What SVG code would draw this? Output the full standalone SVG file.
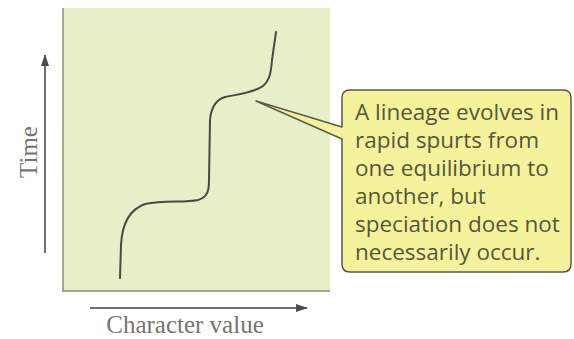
<svg xmlns="http://www.w3.org/2000/svg" width="574" height="339" viewBox="0 0 574 339">
  <defs>
    <style>
      .axis { stroke: #707068; stroke-width: 2; fill: none; }
      .axis-label { font-family: "Liberation Serif", "DejaVu Serif", serif; font-size: 25px; fill: #75756d; }
      .callout-text { font-family: "Open Sans", "Noto Sans", "Liberation Sans", sans-serif; font-size: 22.5px; fill: #56563c; }
      .curve { stroke: #4a4a3e; stroke-width: 2; fill: none; stroke-linecap: round; stroke-linejoin: round; }
    </style>
    <marker id="arrowhead" viewBox="0 0 12 8" refX="11" refY="4" markerWidth="12" markerHeight="8" markerUnits="userSpaceOnUse" orient="auto">
      <path d="M0,0 L12,4 L0,8 Z" fill="#4e4e48"/>
    </marker>
  </defs>

  <rect width="574" height="339" fill="#ffffff"/>

  <!-- plot area with the punctuated lineage curve -->
  <g id="plot">
    <rect x="63" y="8" width="267" height="283" fill="#e7efc9"/>
    <path d="M63,8 V291 H330" fill="none" stroke="#8c8c78" stroke-width="1.5"/>
    <path class="curve" d="M120,278 L121,245 C122,225 128,210 145,204 C165,200 185,203 198,200 C208,197 209,190 209,180 L210,120 C211,108 215,100 225,97 C240,94 255,92 263,86 C270,80 271,72 272,60 L276,32"/>
  </g>

  <!-- axis arrows -->
  <g id="connectors">
    <line class="axis" x1="45" y1="253" x2="45" y2="55" marker-end="url(#arrowhead)"/>
    <line class="axis" x1="90" y1="308" x2="307" y2="308" marker-end="url(#arrowhead)"/>
  </g>

  <g id="label-time">
    <text class="axis-label" transform="translate(37,152) rotate(-90)" text-anchor="middle">Time</text>
  </g>

  <g id="label-character">
    <text class="axis-label" x="185" y="333" text-anchor="middle">Character value</text>
  </g>

  <!-- annotation bubble -->
  <g id="callout">
    <path d="M350,90 H563 Q571,90 571,98 V264 Q571,272 563,272 H350 Q342,272 342,264 V139 L256,101 L342,127 V98 Q342,90 350,90 Z" fill="#f4f39c" stroke="#5a5a48" stroke-width="1.5" stroke-linejoin="round"/>
    <text class="callout-text">
      <tspan x="355" y="120">A lineage evolves in</tspan>
      <tspan x="355" y="148">rapid spurts from</tspan>
      <tspan x="355" y="176">one equilibrium to</tspan>
      <tspan x="355" y="204">another, but</tspan>
      <tspan x="355" y="232">speciation does not</tspan>
      <tspan x="355" y="260">necessarily occur.</tspan>
    </text>
  </g>
</svg>
